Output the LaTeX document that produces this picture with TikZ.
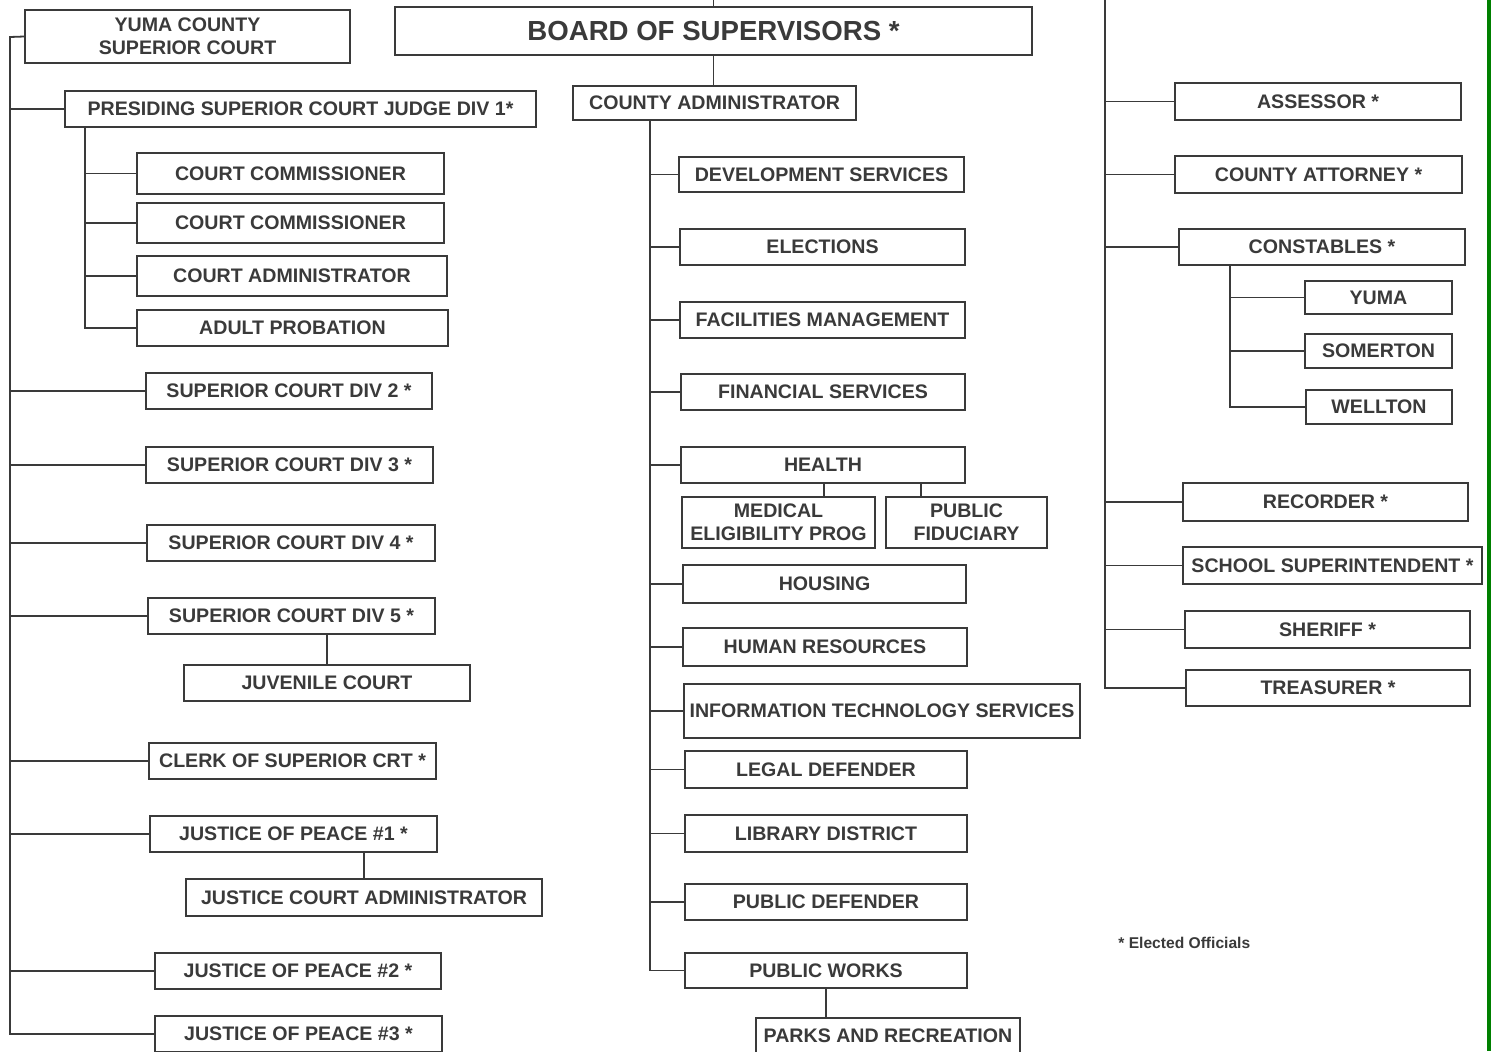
\documentclass[tikz,border=0pt]{standalone}
\usepackage{fontspec}
\setmainfont{Liberation Sans}
\definecolor{inkgray}{RGB}{58,58,58}
\definecolor{edgegreen}{RGB}{0,128,0}
\begin{document}
\begin{tikzpicture}[x=0.5pt,y=-0.5pt]
  \tikzstyle{every node}+=[inner sep=0pt]
  \tikzstyle{orgbox}=[draw=inkgray, line width=0.9pt, text=inkgray, font=\bfseries\fontsize{9.8}{11.5}\selectfont, align=center]
  \tikzstyle{sized}=[minimum width=#1*0.5pt]
  \tikzstyle{tall}=[minimum height=#1*0.5pt]
  \tikzstyle{link}=[draw=inkgray, line width=0.9pt]
  \useasboundingbox (0,0) rectangle (1491,1051);
  \fill [white] (0,0) rectangle (1491,1051);
  \fill [edgegreen] (1487,0) rectangle (1491,1051);
  \node [orgbox, sized=637, tall=48, font=\bfseries\fontsize{13.8}{16}\selectfont] (board) at (713.5,31) {BOARD OF SUPERVISORS *};
  \node [orgbox, sized=325, tall=53, font=\bfseries\fontsize{9.8}{11.5}\selectfont] (ycourt) at (187.5,36.5) {YUMA COUNTY\\SUPERIOR COURT};
  \node [orgbox, sized=471, tall=36] (presiding) at (300.5,109) {PRESIDING SUPERIOR COURT JUDGE DIV 1*};
  \node [orgbox, sized=307, tall=41] (commA) at (290.5,173.5) {COURT COMMISSIONER};
  \node [orgbox, sized=307, tall=40] (commB) at (290.5,223) {COURT COMMISSIONER};
  \node [orgbox, sized=310, tall=40] (courtadm) at (292,276) {COURT ADMINISTRATOR};
  \node [orgbox, sized=311, tall=36] (probation) at (292.5,328) {ADULT PROBATION};
  \node [orgbox, sized=286, tall=36] (divtwo) at (289,391) {SUPERIOR COURT DIV 2 *};
  \node [orgbox, sized=287, tall=36] (divthree) at (289.5,465) {SUPERIOR COURT DIV 3 *};
  \node [orgbox, sized=288, tall=36] (divfour) at (291,543) {SUPERIOR COURT DIV 4 *};
  \node [orgbox, sized=287, tall=36] (divfive) at (291.5,616) {SUPERIOR COURT DIV 5 *};
  \node [orgbox, sized=286, tall=36] (juvenile) at (327,683) {JUVENILE COURT};
  \node [orgbox, sized=287, tall=36] (clerk) at (292.5,761) {CLERK OF SUPERIOR CRT *};
  \node [orgbox, sized=287, tall=36] (jpone) at (293.5,834) {JUSTICE OF PEACE \#1 *};
  \node [orgbox, sized=356, tall=37] (jcadm) at (364,897.5) {JUSTICE COURT ADMINISTRATOR};
  \node [orgbox, sized=286, tall=36] (jptwo) at (298,971) {JUSTICE OF PEACE \#2 *};
  \node [orgbox, sized=287, tall=36] (jpthree) at (298.5,1034) {JUSTICE OF PEACE \#3 *};
  \node [orgbox, sized=283, tall=34] (cadmin) at (714.5,103) {COUNTY ADMINISTRATOR};
  \node [orgbox, sized=285, tall=35] (devserv) at (821.5,174.5) {DEVELOPMENT SERVICES};
  \node [orgbox, sized=285, tall=36] (elections) at (822.5,247) {ELECTIONS};
  \node [orgbox, sized=285, tall=36] (facilities) at (822.5,320) {FACILITIES MANAGEMENT};
  \node [orgbox, sized=284, tall=36] (finance) at (823,392) {FINANCIAL SERVICES};
  \node [orgbox, sized=284, tall=36] (health) at (823,465) {HEALTH};
  \node [orgbox, sized=193, tall=51] (medelig) at (778.5,522.5) {MEDICAL\\ELIGIBILITY PROG};
  \node [orgbox, sized=161, tall=51] (fiduciary) at (966.5,522.5) {PUBLIC\\FIDUCIARY};
  \node [orgbox, sized=283, tall=38] (housing) at (824.5,584) {HOUSING};
  \node [orgbox, sized=284, tall=38] (humanres) at (825,647) {HUMAN RESOURCES};
  \node [orgbox, sized=396, tall=54] (infotech) at (882,711) {INFORMATION TECHNOLOGY SERVICES};
  \node [orgbox, sized=282, tall=37] (legaldef) at (826,769.5) {LEGAL DEFENDER};
  \node [orgbox, sized=282, tall=37] (library) at (826,833.5) {LIBRARY DISTRICT};
  \node [orgbox, sized=282, tall=36] (pubdef) at (826,902) {PUBLIC DEFENDER};
  \node [orgbox, sized=282, tall=35] (pubworks) at (826,970.5) {PUBLIC WORKS};
  \node [orgbox, sized=264, tall=36] (parks) at (888,1036) {PARKS AND RECREATION};
  \node [orgbox, sized=286, tall=37] (assessor) at (1318,101.5) {ASSESSOR *};
  \node [orgbox, sized=287, tall=37] (attorney) at (1318.5,174.5) {COUNTY ATTORNEY *};
  \node [orgbox, sized=286, tall=36] (constables) at (1322,247) {CONSTABLES *};
  \node [orgbox, sized=147, tall=33] (cyuma) at (1378.5,297.5) {YUMA};
  \node [orgbox, sized=147, tall=34] (csomerton) at (1378.5,351) {SOMERTON};
  \node [orgbox, sized=146, tall=34] (cwellton) at (1379,407) {WELLTON};
  \node [orgbox, sized=285, tall=38] (recorder) at (1325.5,502) {RECORDER *};
  \node [orgbox, sized=299, tall=37] (school) at (1332.5,565.5) {SCHOOL SUPERINTENDENT *};
  \node [orgbox, sized=285, tall=37] (sheriff) at (1327.5,629.5) {SHERIFF *};
  \node [orgbox, sized=284, tall=36] (treasurer) at (1328,688) {TREASURER *};
  \node [anchor=west, text=inkgray, font=\bfseries\fontsize{7.8}{9}\selectfont] (elected) at (1118,943) {* Elected Officials};
  \coordinate (lspine) at (10,37);
  \coordinate (pspine) at (85,0);
  \coordinate (mspine) at (650,0);
  \coordinate (rspine) at (1105,0);
  \coordinate (cspine) at (1230,0);
  \coordinate (hmed) at (824,0);
  \coordinate (hfid) at (921,0);
  \draw [link] (ycourt.west) -- (lspine) |- (jpthree.west);
  \foreach \n in {presiding,divtwo,divthree,divfour,divfive,clerk,jpone,jptwo}
    \draw [link] (\n.west) -- (\n.west -| lspine);
  \draw [link] (presiding.south -| pspine) |- (probation.west);
  \foreach \n in {commA,commB,courtadm}
    \draw [link] (\n.west) -- (\n.west -| pspine);
  \draw [link] (divfive.south -| juvenile.north) -- (juvenile.north);
  \draw [link] (jpone.south -| jcadm.north) -- (jcadm.north);
  \draw [link] (board.north) -- (board.north |- rspine);
  \draw [link] (board.south) -- (board.south |- cadmin.north);
  \draw [link] (cadmin.south -| mspine) |- (pubworks.west);
  \foreach \n in {devserv,elections,facilities,finance,health,housing,humanres,infotech,legaldef,library,pubdef}
    \draw [link] (\n.west) -- (\n.west -| mspine);
  \draw [link] (health.south -| hmed) -- (medelig.north -| hmed);
  \draw [link] (health.south -| hfid) -- (fiduciary.north -| hfid);
  \draw [link] (pubworks.south) -- (pubworks.south |- parks.north);
  \draw [link] (rspine) |- (treasurer.west);
  \foreach \n in {assessor,attorney,constables,recorder,school,sheriff}
    \draw [link] (\n.west) -- (\n.west -| rspine);
  \draw [link] (constables.south -| cspine) |- (cwellton.west);
  \foreach \n in {cyuma,csomerton}
    \draw [link] (\n.west) -- (\n.west -| cspine);
\end{tikzpicture}
\end{document}
